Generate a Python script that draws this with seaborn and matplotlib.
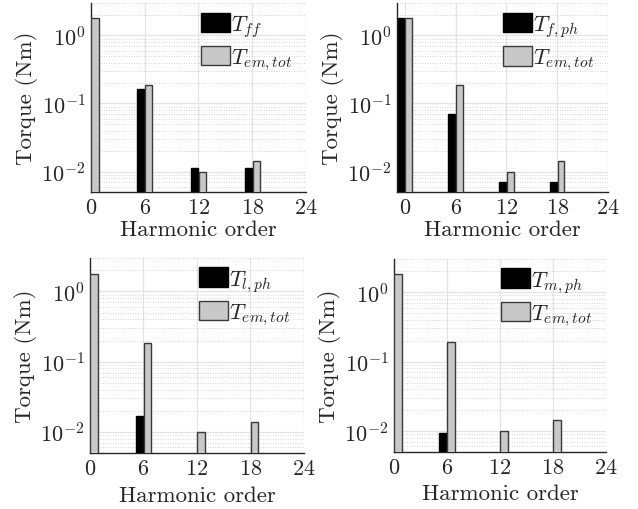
import numpy as np
import pandas as pd
import matplotlib
matplotlib.use("Agg")
import matplotlib.pyplot as plt
import seaborn as sns
from matplotlib.ticker import LogLocator, FixedLocator, MultipleLocator
from matplotlib.patches import Patch

# ---------------- data ----------------
harmonics = [0, 6, 12, 18]
xticks = [0, 6, 12, 18, 24]

t_ff = [np.nan, 0.166, 0.0112, 0.0112]
t_em_tl = [1.80, 0.190, 0.0099, 0.0141]

t_fph = [1.79, 0.0698, 0.0069, 0.0071]
t_em_tr = [1.79, 0.188, 0.0100, 0.0143]

t_lph = [np.nan, 0.0171, np.nan, np.nan]
t_em_bl = [1.77, 0.187, 0.0099, 0.0139]

t_mph = [np.nan, 0.0094, np.nan, np.nan]
t_em_br = [1.83, 0.189, 0.0101, 0.0144]

lab_ff = r"$T_{ff}$"
lab_fph = r"$T_{f,ph}$"
lab_lph = r"$T_{l,ph}$"
lab_mph = r"$T_{m,ph}$"
lab_em = r"$T_{em,tot}$"

panels = [
    (lab_ff, t_ff, t_em_tl, (0, 24)),
    (lab_fph, t_fph, t_em_tr, (-0.92, 24)),
    (lab_lph, t_lph, t_em_bl, (0, 24)),
    (lab_mph, t_mph, t_em_br, (0, 24)),
]

# ---------------- style ----------------
sns.set_theme(style="white")
plt.rcParams["font.family"] = ["cmr10", "DejaVu Serif"]
plt.rcParams["mathtext.fontset"] = "cm"
plt.rcParams["axes.formatter.use_mathtext"] = True
plt.rcParams["axes.unicode_minus"] = True

fig = plt.figure(figsize=(6.38, 5.10), dpi=100)
W, H = 638, 510
rects = [
    (91, 4, 306, 193),
    (397, 4, 608, 193),
    (90, 259, 304, 454),
    (394, 260, 606, 453),
]
xlabelpads = [1.5, 1.5, 5.5, 4.5]

black = "#000000"
grey = "#c8c8c8"
grey_edge = "#3a3a3a"
text_c = "#262626"

for (lab, comp, tot, xl), (l, t, r, b), lp in zip(panels, rects, xlabelpads):
    ax = fig.add_axes([l / W, 1 - b / H, (r - l) / W, (b - t) / H])
    ax.set_yscale("log")
    df = pd.DataFrame({
        "h": harmonics * 2,
        "torque": list(comp) + list(tot),
        "series": [lab] * len(harmonics) + [lab_em] * len(harmonics),
    })
    df = df.dropna()
    sns.barplot(data=df, x="h", y="torque", hue="series",
                hue_order=[lab, lab_em], palette=[black, grey],
                native_scale=True, width=0.3, gap=0.1,
                saturation=1, ax=ax, zorder=3, legend=False)
    for cont, ec in zip(ax.containers, [black, grey_edge]):
        for p in cont.patches:
            p.set_edgecolor(ec)
            p.set_linewidth(1.0)
    ax.set_xlim(*xl)
    ax.set_ylim(0.005, 3.0)
    ax.xaxis.set_major_locator(FixedLocator(xticks))
    ax.xaxis.set_minor_locator(MultipleLocator(1.2))
    ax.yaxis.set_major_locator(LogLocator(base=10, numticks=10))
    ax.yaxis.set_minor_locator(LogLocator(base=10, subs=np.arange(2, 10), numticks=20))
    ax.set_axisbelow(True)
    ax.grid(which="major", color="#e3e3e3", linestyle="-", linewidth=0.9)
    ax.grid(which="minor", axis="y", color="#c8c8c8", linestyle=(0, (1, 2)), linewidth=0.6)
    for s in ["top", "right"]:
        ax.spines[s].set_visible(False)
    for s in ["left", "bottom"]:
        ax.spines[s].set_color(text_c)
        ax.spines[s].set_linewidth(1.0)
    ax.tick_params(axis="both", which="both", direction="in", colors=text_c,
                   labelcolor=text_c, labelsize=16, pad=4)
    ax.tick_params(axis="both", which="major", length=3)
    ax.tick_params(axis="both", which="minor", length=2)
    ax.set_xlabel("Harmonic order", fontsize=16.5, color=text_c, labelpad=lp)
    ax.set_ylabel("Torque (Nm)", fontsize=16.5, color=text_c, labelpad=2)
    handles = [Patch(facecolor=black, edgecolor=black, linewidth=1.0),
               Patch(facecolor=grey, edgecolor=grey_edge, linewidth=1.0)]
    ax.legend(handles, [lab, lab_em], loc="upper right",
              bbox_to_anchor=(1.0, 1.02), frameon=False,
              fontsize=16, handlelength=1.3, handleheight=1.0,
              handletextpad=0.05, labelspacing=0.3, borderaxespad=0.2)

fig.savefig("out.png", dpi=100)
